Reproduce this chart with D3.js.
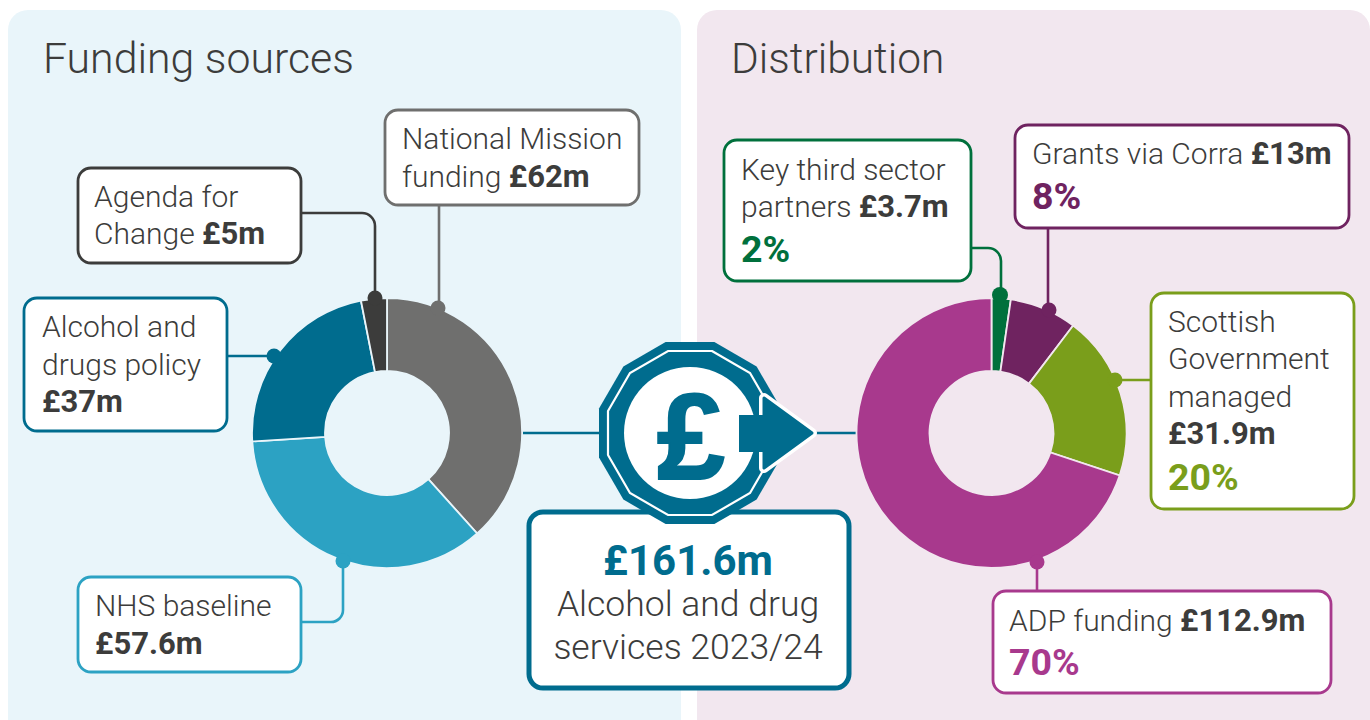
<!DOCTYPE html>
<html><head><meta charset="utf-8">
<script src="https://cdn.jsdelivr.net/npm/d3@7"></script>
<style>html,body{margin:0;padding:0;background:#fff}svg{display:block}text{font-family:Roboto,"Liberation Sans",sans-serif;font-weight:300;fill:#3c3c3b}</style>
</head><body><svg id="c" width="1370" height="720"></svg>
<script>
const sourceNames = ["National Mission funding","NHS baseline","Alcohol and drugs policy","Agenda for Change"];
const sourceValues = [62,57.6,37,5];
const sourceColors = ["#6f6f6e","#2ca2c3","#006c8e","#3c3c3b"];
const distNames = ["Key third sector partners","Grants via Corra","Scottish Government managed","ADP funding"];
const distValues = [3.7,13,31.9,112.9];
const distColors = ["#00703c","#6f2360","#7a9e1b","#a8398d"];
const titles = ["Funding sources","Distribution"];

const svg = d3.select("#c");
const panel=(x,w,c)=>svg.append("rect").attr("x",x).attr("y",10).attr("width",w).attr("height",730).attr("rx",20).attr("fill",c);
panel(8,673,"#e9f5fa"); panel(697,673,"#f2e7ef");
svg.append("text").attr("x",43).attr("y",73).attr("font-size",42.8).text(titles[0]);
svg.append("text").attr("x",731).attr("y",73).attr("font-size",42.4).text(titles[1]);

const R=135,r0=62,cy=433;
const pie=d3.pie().sort(null).value(d=>d);
const arc=d3.arc().innerRadius(r0).outerRadius(R);
function donut(cx,vals,cols){
  const g=svg.append("g").attr("transform",`translate(${cx},${cy})`);
  g.selectAll("path").data(pie(vals)).join("path").attr("d",arc).attr("fill",(d,i)=>cols[i]);
  return g;
}
function leader(d,c){
  svg.append("path").attr("d",d).attr("fill","none").attr("stroke",c).attr("stroke-width",2.6);
}
function dot(x,y,c,r=7.5){svg.append("circle").attr("cx",x).attr("cy",y).attr("r",r).attr("fill",c);}
const L=387,Rc=991.5;
const teal="#006c8e";
svg.append("path").attr("d",`M${L+136},${cy}H610M800,${cy}H${Rc-135}`).attr("stroke",teal).attr("stroke-width",2.6);
leader("M439,205V308",sourceColors[0]);
leader("M301,213H362a13,13 0 0 1 13,13V298",sourceColors[3]);
leader("M227,356H274",sourceColors[2]);
leader("M301,622H331a12,12 0 0 0 12,-12V561",sourceColors[1]);
leader("M971,248H988a13,13 0 0 1 13,13V294",distColors[0]);
leader("M1048,228V310",distColors[1]);
leader("M1151,380H1115",distColors[2]);
leader("M1037,591V562",distColors[3]);
donut(L,sourceValues,sourceColors).selectAll("path").attr("stroke","#e9f5fa").attr("stroke-width",1.8);
donut(Rc,distValues,distColors).selectAll("path").attr("stroke","#f2e7ef").attr("stroke-width",1.8);
dot(375,298,sourceColors[3]); dot(438,308,sourceColors[0]); dot(274,356,sourceColors[2]); dot(343,561,sourceColors[1]);
dot(1000,295,distColors[0],8); dot(1049,310,distColors[1]); dot(1115,380,distColors[2]); dot(1037,562,distColors[3]);

function box(x0,y0,x1,y1,c,lines,pct,tx){
  svg.append("rect").attr("x",x0).attr("y",y0).attr("width",x1-x0).attr("height",y1-y0).attr("rx",13).attr("fill","#fff").attr("stroke",c).attr("stroke-width",2.8);
  lines.forEach(l=>{
    const t=svg.append("text").attr("x",tx).attr("y",l[0]-0.5).attr("font-size",30);
    t.append("tspan").text(l[1]);
    if(l[2]) t.append("tspan").style("font-weight",700).attr("font-size",31).text(l[2]);
  });
  if(pct) svg.append("text").attr("x",tx).attr("y",pct[0]).attr("font-size",37.5).style("font-weight",700).style("fill",c).text(pct[1]);
}
box(385,110,639,205,sourceColors[0],[[149,"National Mission"],[187,"funding ","£62m"]],null,402);
box(78,168,301,263,sourceColors[3],[[207,"Agenda for"],[244,"Change ","£5m"]],null,94);
box(24,298,227,431,sourceColors[2],[[337,"Alcohol and"],[375,"drugs policy"],[412,"","£37m"]],null,42);
box(78,577,301,672,sourceColors[1],[[616,"NHS baseline"],[654,"","£57.6m"]],null,95);
box(724,140,971,281,distColors[0],[[180,"Key third sector"],[217,"partners ","£3.7m"]],[262,"2%"],741);
box(1015,125,1349,228,distColors[1],[[164,"Grants via Corra ","£13m"]],[209,"8%"],1032);
box(1151,293,1354,509,distColors[2],[[332,"Scottish"],[369,"Government"],[407,"managed"],[444,"","£31.9m"]],[490,"20%"],1168);
box(993,591,1331,693,distColors[3],[[631,"ADP funding ","£112.9m"]],[675,"70%"],1009);

svg.append("rect").attr("x",529).attr("y",512).attr("width",320).attr("height",176).attr("rx",14).attr("fill","#fff").attr("stroke",teal).attr("stroke-width",5);
svg.append("text").attr("x",688).attr("y",575).attr("text-anchor","middle").attr("font-size",42).style("font-weight",700).style("fill",teal).text("£161.6m");
svg.append("text").attr("x",688).attr("y",616).attr("text-anchor","middle").attr("font-size",35.5).text("Alcohol and drug");
svg.append("text").attr("x",688).attr("y",659).attr("text-anchor","middle").attr("font-size",35.5).text("services 2023/24");

const ccx=690;
const gon=a=>d3.range(12).map(i=>{const t=(i*30+15)*Math.PI/180,R=a/Math.cos(Math.PI/12);return [ccx+R*Math.sin(t),cy-R*Math.cos(t)];});
const line=d3.line().curve(d3.curveLinearClosed);
svg.append("path").attr("d",line(gon(91))).attr("fill",teal);
svg.append("path").attr("d",line(gon(82))).attr("fill","none").attr("stroke","#fff").attr("stroke-width",2.2);
svg.append("circle").attr("cx",ccx).attr("cy",cy).attr("r",66).attr("fill","#fff");
svg.append("text").attr("x",ccx+1).attr("y",479).attr("text-anchor","middle").attr("font-size",122).style("font-weight",700).style("font-family","'Liberation Sans'").style("fill",teal).style("stroke",teal).style("stroke-width",2).text("£");
svg.append("path").attr("d","M764,398L812,433L764,468Z").attr("fill",teal).attr("stroke","#fff").attr("stroke-width",10).attr("stroke-linejoin","round");
svg.append("path").attr("d","M764,398L812,433L764,468Z").attr("fill",teal).attr("stroke",teal).attr("stroke-width",3).attr("stroke-linejoin","round");
svg.append("rect").attr("x",739).attr("y",415).attr("width",32).attr("height",37).attr("fill",teal);
</script></body></html>
